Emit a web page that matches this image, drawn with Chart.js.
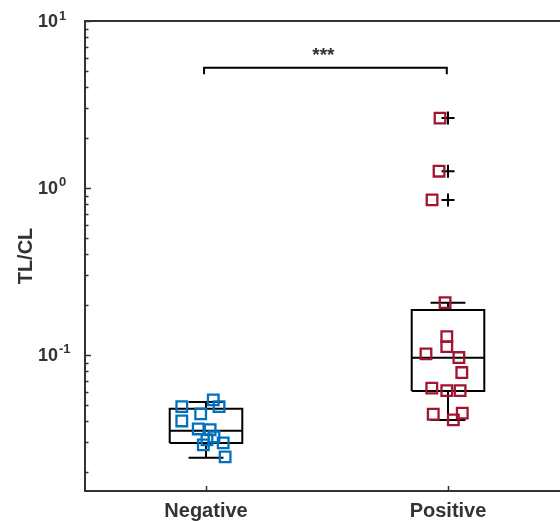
<!DOCTYPE html>
<html lang="en">
<head>
<meta charset="UTF-8">
<title>TL/CL</title>
<script src="https://cdn.jsdelivr.net/npm/chart.js"></script>
<style>
  body { margin: 0; background: #ffffff; overflow: hidden; }
  #wrap { width: 560px; height: 521px; overflow: hidden; }
</style>
</head>
<body>
<div id="wrap"><canvas id="tlChart" width="580" height="521"></canvas></div>
<script>
// groups
const categories = ['Negative', 'Positive'];

// jittered points (x position, TL/CL value)
const negJitter = [0.900, 0.900, 0.978, 1.030, 1.054, 0.968, 1.017, 1.033, 0.989, 1.071, 1.079, 1.004];
const negValues = [0.0490, 0.0402, 0.0443, 0.0538, 0.0490, 0.0360, 0.0356, 0.0323, 0.0289, 0.0297, 0.0245, 0.0310];
const posJitter = [1.988, 1.995, 1.995, 1.909, 2.045, 2.057, 1.933, 1.995, 2.050, 1.939, 2.059, 2.022, 1.967, 1.963, 1.934];
const posValues = [0.2057, 0.1287, 0.1121, 0.1014, 0.0964, 0.0784, 0.0632, 0.0611, 0.0611, 0.0441, 0.0448, 0.0408, 2.62, 1.26, 0.848];

// box plot stats
const whiskerLow  = [0.0242, 0.0408];
const boxQ1       = [0.0297, 0.0608];
const boxMedian   = [0.0351, 0.0960];
const boxQ3       = [0.0475, 0.186];
const whiskerHigh = [0.0523, 0.205];
const outlierValues = [2.62, 1.26, 0.848];

// significance bracket
const bracketX = [0.992, 1.995];
const bracketY = [4.8, 5.25];
const sigLabel = '***';

// y axis ticks
const yMajorTicks = [0.1, 1, 10];
const yMajorExp = ['-1', '0', '1'];
const yMinorTicks = [0.02, 0.03, 0.04, 0.05, 0.06, 0.07, 0.08, 0.09,
                     0.2, 0.3, 0.4, 0.5, 0.6, 0.7, 0.8, 0.9,
                     2, 3, 4, 5, 6, 7, 8, 9];
const yTitle = 'TL/CL';

const BOX_HALF = 0.15;
const CAP_HALF = 0.072;
const AXIS_COLOR = '#333333';
const FONT = '"Liberation Sans", Arial, sans-serif';

function boxPath(i) {
    const x = i + 1;
    const gap = { x: x, y: null };
    return [
        { x: x - BOX_HALF, y: boxQ1[i] }, { x: x + BOX_HALF, y: boxQ1[i] },
        { x: x + BOX_HALF, y: boxQ3[i] }, { x: x - BOX_HALF, y: boxQ3[i] },
        { x: x - BOX_HALF, y: boxQ1[i] }, gap,
        { x: x - BOX_HALF, y: boxMedian[i] }, { x: x + BOX_HALF, y: boxMedian[i] }, gap,
        { x: x, y: boxQ3[i] }, { x: x, y: whiskerHigh[i] }, gap,
        { x: x - CAP_HALF, y: whiskerHigh[i] }, { x: x + CAP_HALF, y: whiskerHigh[i] }, gap,
        { x: x, y: boxQ1[i] }, { x: x, y: whiskerLow[i] }, gap,
        { x: x - CAP_HALF, y: whiskerLow[i] }, { x: x + CAP_HALF, y: whiskerLow[i] }
    ];
}

const decorPlugin = {
    id: 'decor',
    afterDraw(chart) {
        const ctx = chart.ctx;
        const xs = chart.scales.x, ys = chart.scales.y;
        const a = chart.chartArea;
        ctx.save();
        ctx.strokeStyle = AXIS_COLOR;
        ctx.lineWidth = 2;
        // top and right border
        ctx.beginPath();
        ctx.moveTo(a.left, a.top); ctx.lineTo(a.right, a.top); ctx.lineTo(a.right, a.bottom);
        ctx.stroke();
        // inward ticks
        ctx.lineWidth = 1.5;
        ctx.beginPath();
        yMajorTicks.forEach(v => {
            const py = Math.round(ys.getPixelForValue(v)) + 0.5;
            ctx.moveTo(a.left, py); ctx.lineTo(a.left + 6, py);
        });
        yMinorTicks.forEach(v => {
            const py = Math.round(ys.getPixelForValue(v)) + 0.5;
            ctx.moveTo(a.left, py); ctx.lineTo(a.left + 3.5, py);
        });
        categories.forEach((c, i) => {
            const px = Math.round(xs.getPixelForValue(i + 1)) + 0.5;
            ctx.moveTo(px, a.bottom); ctx.lineTo(px, a.bottom - 5);
        });
        ctx.stroke();

        // y tick labels 10^n
        ctx.fillStyle = AXIS_COLOR;
        ctx.textBaseline = 'alphabetic';
        ctx.textAlign = 'left';
        yMajorTicks.forEach((v, i) => {
            const py = ys.getPixelForValue(v);
            ctx.font = 'bold 18px ' + FONT;
            ctx.fillText('10', 38, py + 6);
            const w = ctx.measureText('10').width;
            ctx.font = 'bold 13px ' + FONT;
            ctx.fillText(yMajorExp[i], 38 + w + 1, py - 1.5);
        });

        // y title
        ctx.save();
        ctx.translate(32, (a.top + a.bottom) / 2);
        ctx.rotate(-Math.PI / 2);
        ctx.textAlign = 'center';
        ctx.font = 'bold 20px ' + FONT;
        ctx.fillText(yTitle, 0, 0);
        ctx.restore();

        // x labels
        ctx.textAlign = 'center';
        ctx.font = 'bold 20px ' + FONT;
        categories.forEach((c, i) => {
            ctx.fillText(c, xs.getPixelForValue(i + 1), a.bottom + 26);
        });

        // significance stars
        ctx.font = 'bold 19px ' + FONT;
        ctx.fillText(sigLabel, xs.getPixelForValue((bracketX[0] + bracketX[1]) / 2) - 2, 60.5);
        ctx.restore();
    }
};

const ctx = document.getElementById('tlChart').getContext('2d');
new Chart(ctx, {
    type: 'scatter',
    data: {
        datasets: [
            {
                data: negJitter.map((x, i) => ({ x: x, y: negValues[i] })),
                pointStyle: 'rect', pointRadius: 7.5, pointBorderWidth: 2.3,
                borderColor: '#0072BD', backgroundColor: 'rgba(0,0,0,0)', order: 0
            },
            {
                data: posJitter.map((x, i) => ({ x: x, y: posValues[i] })),
                pointStyle: 'rect', pointRadius: 7.5, pointBorderWidth: 2.3,
                borderColor: '#A2142F', backgroundColor: 'rgba(0,0,0,0)', order: 0
            },
            {
                data: outlierValues.map(v => ({ x: 2, y: v })),
                pointStyle: 'cross', pointRadius: 6.5, pointBorderWidth: 2,
                borderColor: '#000000', backgroundColor: '#000000', order: 1
            },
            {
                data: boxPath(0).concat([{ x: 1.5, y: null }], boxPath(1)),
                showLine: true, spanGaps: false, pointRadius: 0,
                borderColor: '#000000', borderWidth: 2, order: 2
            },
            {
                data: [
                    { x: bracketX[0], y: bracketY[0] }, { x: bracketX[0], y: bracketY[1] },
                    { x: bracketX[1], y: bracketY[1] }, { x: bracketX[1], y: bracketY[0] }
                ],
                showLine: true, pointRadius: 0,
                borderColor: '#000000', borderWidth: 2, order: 2
            }
        ]
    },
    options: {
        responsive: false,
        animation: false,
        layout: { padding: { left: 0, right: 11, top: 21, bottom: 0 } },
        plugins: { legend: { display: false }, tooltip: { enabled: false } },
        scales: {
            x: {
                type: 'linear', min: 0.5, max: 2.5,
                ticks: { display: false },
                grid: { display: false },
                border: { display: true, color: AXIS_COLOR, width: 2 },
                afterFit(scale) { scale.height = 30; }
            },
            y: {
                type: 'logarithmic', min: 0.0153, max: 10,
                ticks: { display: false },
                grid: { display: false },
                border: { display: true, color: AXIS_COLOR, width: 2 },
                afterFit(scale) { scale.width = 85; }
            }
        }
    },
    plugins: [decorPlugin]
});
</script>
</body>
</html>
